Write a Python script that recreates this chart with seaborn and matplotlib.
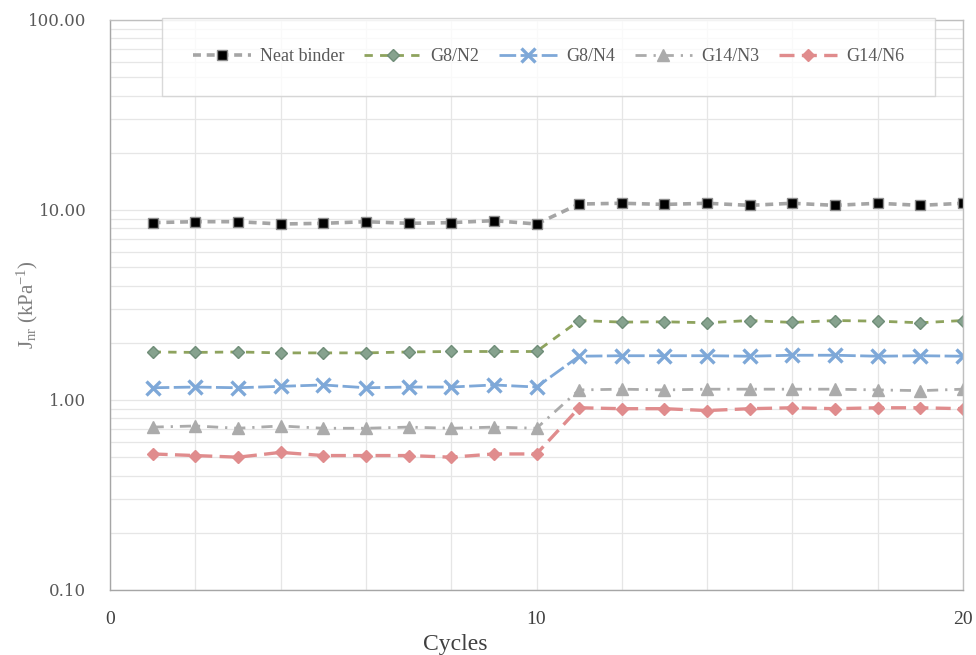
import matplotlib
matplotlib.use("Agg")
import matplotlib.pyplot as plt
import seaborn as sns
import numpy as np
from matplotlib.ticker import FixedLocator, LogLocator, NullFormatter, FuncFormatter

# Non-recoverable creep compliance per loading cycle
cycles = list(range(1, 21))
neat_binder = [8.58, 8.68, 8.68, 8.44, 8.51, 8.68, 8.51, 8.58, 8.79, 8.44,
               10.75, 10.85, 10.70, 10.85, 10.58, 10.85, 10.58, 10.85, 10.58, 10.85]
g8_n2 = [1.79, 1.78, 1.79, 1.77, 1.77, 1.77, 1.79, 1.80, 1.80, 1.80,
         2.62, 2.57, 2.58, 2.55, 2.62, 2.56, 2.62, 2.60, 2.55, 2.62]
g8_n4 = [1.16, 1.17, 1.16, 1.18, 1.20, 1.16, 1.17, 1.17, 1.20, 1.17,
         1.70, 1.71, 1.71, 1.71, 1.70, 1.72, 1.72, 1.70, 1.71, 1.70]
g14_n3 = [0.72, 0.73, 0.71, 0.73, 0.71, 0.71, 0.72, 0.71, 0.72, 0.71,
          1.13, 1.14, 1.13, 1.14, 1.14, 1.14, 1.14, 1.13, 1.12, 1.14]
g14_n6 = [0.52, 0.51, 0.50, 0.53, 0.51, 0.51, 0.51, 0.50, 0.52, 0.52,
          0.91, 0.90, 0.90, 0.88, 0.90, 0.91, 0.90, 0.91, 0.91, 0.90]

series_names = ["Neat binder", "G8/N2", "G8/N4", "G14/N3", "G14/N6"]
series_values = [neat_binder, g8_n2, g8_n4, g14_n3, g14_n6]

x_ticks = [0, 10, 20]
y_ticks = [0.1, 1, 10, 100]

styles = {
    "Neat binder": dict(color="#A5A5A5", dashes=(2.2, 1.6), marker="s", ms=7,
                        mfc="black", mec="#8C8C8C", mew=1.0, lw=2.6),
    "G8/N2": dict(color="#8EA35E", dashes=(3.0, 2.6), marker="D", ms=6,
                  mfc="#86A28E", mec="#6F8D78", mew=1.0, lw=2.0),
    "G8/N4": dict(color="#7EA8D8", dashes=(6.0, 1.6), marker="x", ms=10,
                  mfc="#7EA8D8", mec="#7EA8D8", mew=2.4, lw=2.0),
    "G14/N3": dict(color="#ABABAB", dashes=(4.0, 2.5, 0.8, 2.5), marker="^", ms=9,
                   mfc="#ABABAB", mec="#ABABAB", mew=1.0, lw=2.0),
    "G14/N6": dict(color="#E08C8D", dashes=(4.5, 2.2), marker="D", ms=6.5,
                   mfc="#E08C8D", mec="#E08C8D", mew=1.0, lw=2.4),
}

sns.set_theme(style="white")
plt.rcParams["font.family"] = ["Liberation Serif", "DejaVu Serif"]
plt.rcParams["mathtext.fontset"] = "custom"
plt.rcParams["mathtext.rm"] = "Liberation Serif"
plt.rcParams["mathtext.it"] = "Liberation Serif:italic"

fig = plt.figure(figsize=(9.76, 6.55), dpi=100)
ax = fig.add_axes([110 / 976, 65 / 655, 853 / 976, 570 / 655])

for name, vals in zip(series_names, series_values):
    st = styles[name]
    sns.lineplot(x=cycles, y=vals, ax=ax, label=name, color=st["color"],
                 linewidth=st["lw"], marker=st["marker"], markersize=st["ms"],
                 markerfacecolor=st["mfc"], markeredgecolor=st["mec"],
                 markeredgewidth=st["mew"])
    line = ax.get_lines()[-1]
    line.set_dashes(st["dashes"])

ax.set_yscale("log")
ax.set_xlim(0, 20)
ax.set_ylim(0.1, 100)

ax.xaxis.set_major_locator(FixedLocator(x_ticks))
ax.xaxis.set_minor_locator(FixedLocator(list(range(0, 21, 2))))
ax.yaxis.set_major_locator(FixedLocator(y_ticks))
ax.yaxis.set_minor_locator(LogLocator(base=10, subs=np.arange(2, 10)))
ax.yaxis.set_major_formatter(FuncFormatter(lambda v, p: f"{v:.2f}"))
ax.yaxis.set_minor_formatter(NullFormatter())

ax.grid(which="both", color="#E6E6E6", linewidth=0.9)
ax.set_axisbelow(True)
ax.tick_params(axis="both", which="both", length=0)
ax.tick_params(axis="y", labelsize=12, labelcolor="#595959", pad=17)
ax.tick_params(axis="x", labelsize=14, labelcolor="#404040", pad=15)
for lab in ax.get_yticklabels():
    lab.set_fontfamily("DejaVu Serif")

for side in ["left", "bottom", "top", "right"]:
    ax.spines[side].set_visible(True)
    ax.spines[side].set_color("#BFBFBF")
    ax.spines[side].set_linewidth(1.0)
ax.spines["left"].set_color("#A6A6A6")
ax.spines["bottom"].set_color("#A6A6A6")

ax.set_xlabel("Cycles", fontsize=17, color="#404040")
ax.xaxis.set_label_coords((455 - 110) / 853, -0.078)
ax.set_ylabel(r"J$_{\mathrm{nr}}$ (kPa$^{\mathrm{-1}}$)", fontsize=15, color="#7F7F7F")
ax.yaxis.set_label_coords(-0.082, 0.5)

leg = ax.legend(loc="upper left", bbox_to_anchor=(0.061, 1.004, 0.906, 0.0),
                mode="expand", ncol=5, frameon=True, fontsize=13,
                handlelength=3.2, handletextpad=0.5, borderpad=1.7,
                borderaxespad=0.0, columnspacing=0.8, fancybox=False,
                labelcolor="#595959")
leg.get_frame().set_edgecolor("#D0D0D0")
leg.get_frame().set_linewidth(1.0)

fig.savefig("out.png", dpi=100, facecolor="white")
